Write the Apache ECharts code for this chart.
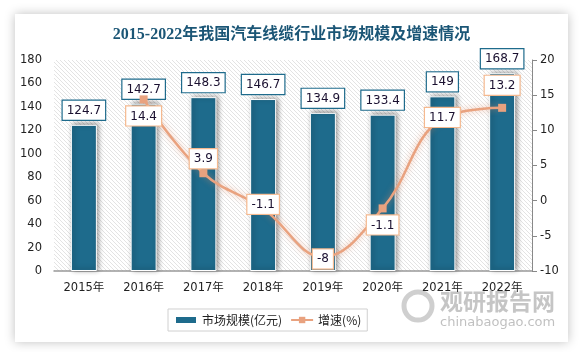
<!DOCTYPE html>
<html><head><meta charset="utf-8">
<script src="https://cdn.jsdelivr.net/npm/echarts@6/dist/echarts.min.js"></script>
<style>html,body{margin:0;padding:0;background:#fff}#c{width:583px;height:352px}</style>
</head><body><div id="c"></div>
<script>
const categories = ['2015年','2016年','2017年','2018年','2019年','2020年','2021年','2022年'];
const marketSize = [124.7,142.7,148.3,146.7,134.9,133.4,149,168.7];
const growth = [null,14.4,3.9,-1.1,-8,-1.1,11.7,13.2];
const leftTicks = {min:0,max:180,interval:20};
const rightTicks = {min:-10,max:20,interval:5};

// label placement per point for growth line (layout only)
const growthLabelPos = ['top','bottom','top','inside','inside','bottom','inside','top'];
const growthLabelDist = [7,3,1,0,0,3,0,9];
const growthLabelOff = [[0,0],[0,0],[0,0],[0,-4],[0,2],[0,0],[0,-1],[0,0]];

const pc = document.createElement('canvas');
pc.width = 4; pc.height = 4;
const g = pc.getContext('2d');
g.fillStyle = '#ffffff'; g.fillRect(0,0,4,4);
g.strokeStyle = '#e0e0e0'; g.lineWidth = 0.9;
g.beginPath(); g.moveTo(0,0); g.lineTo(4,4); g.stroke();
g.beginPath(); g.moveTo(-2,2); g.lineTo(2,6); g.stroke();
g.beginPath(); g.moveTo(2,-2); g.lineTo(6,2); g.stroke();

const chart = echarts.init(document.getElementById('c'));
const barColor = '#1e6b8c';
const lineColor = '#e9a27f';
chart.setOption({
  animation:false,
  backgroundColor:'#fff',
  graphic:[
    {type:'rect',z:-10,shape:{x:15,y:14,width:553,height:328},style:{fill:'#fff',shadowBlur:10,shadowColor:'rgba(0,0,0,0.25)'}},
    {type:'text',z:-5,left:440,top:290,style:{text:'观研报告网',font:'bold 23px "Noto Sans CJK SC"',fill:'rgba(150,150,150,0.55)'}},
    {type:'text',z:-5,left:440,top:316,style:{text:'chinabaogao.com',font:'13px "DejaVu Sans"',fill:'rgba(150,150,150,0.6)'}},
    {type:'circle',z:-5,shape:{cx:418,cy:306,r:14},style:{fill:'none',stroke:'rgba(160,160,160,0.5)',lineWidth:5}}
  ],
  title:{
    text:'2015-2022年我国汽车线缆行业市场规模及增速情况',
    left:'center', top:22,
    textStyle:{fontSize:16,fontWeight:'bold',color:'#1b5676',fontFamily:'"Liberation Serif","Noto Sans CJK SC",serif'}
  },
  legend:{
    bottom:21, left:168, itemGap:8,
    borderColor:'#d0d0d0', borderWidth:1, padding:[5,6],
    textStyle:{fontSize:12,color:'#222',fontFamily:'"Noto Sans CJK SC",sans-serif'},
    data:[
      {name:'市场规模(亿元)',icon:'rect',itemStyle:{color:barColor}},
      {name:'增速(%)'}
    ],
    itemWidth:22,itemHeight:8
  },
  grid:{left:54,right:51,top:60,bottom:81,show:true,borderWidth:0,
    backgroundColor:{image:pc,repeat:'repeat'}},
  xAxis:{type:'category',data:categories,
    axisLine:{lineStyle:{color:'#999',width:1.5}},axisTick:{show:false},
    axisLabel:{color:'#222',fontSize:11.5,margin:11,fontFamily:'"DejaVu Sans","Noto Sans CJK SC",sans-serif'}},
  yAxis:[
    {type:'value',min:leftTicks.min,max:leftTicks.max,interval:leftTicks.interval,
     splitLine:{show:false},axisLine:{show:false},axisTick:{show:false},
     axisLabel:{color:'#222',fontSize:11.5,margin:12,fontFamily:'"DejaVu Sans",sans-serif'}},
    {type:'value',min:rightTicks.min,max:rightTicks.max,interval:rightTicks.interval,
     splitLine:{show:false},axisLine:{show:true,lineStyle:{color:'#888'}},
     axisTick:{show:true,length:5,lineStyle:{color:'#888'}},
     axisLabel:{color:'#222',fontSize:11.5,margin:8,fontFamily:'"DejaVu Sans",sans-serif'}}
  ],
  series:[
    {name:'市场规模(亿元)',type:'bar',data:marketSize,barWidth:26,yAxisIndex:0,
     itemStyle:{color:barColor,borderColor:'#fff',borderWidth:1,shadowBlur:5,shadowColor:'rgba(0,0,0,0.45)',shadowOffsetX:2,shadowOffsetY:-1},
     label:{show:true,position:'top',distance:5,color:'#1a1030',fontSize:12,fontFamily:'"DejaVu Sans",sans-serif',
       backgroundColor:'#fff',borderColor:'#1e6b8c',borderWidth:1.2,padding:[4,4,3,4]}},
    {name:'增速(%)',type:'line',
     data:growth.map((v,i)=>({value:v,label:{position:growthLabelPos[i],distance:growthLabelDist[i],offset:growthLabelOff[i]}})),
     yAxisIndex:1,smooth:0.4,symbol:'rect',symbolSize:8,connectNulls:false,z:5,
     lineStyle:{color:lineColor,width:2.5,shadowBlur:6,shadowColor:'rgba(233,140,100,0.6)'},
     itemStyle:{color:lineColor},
     label:{show:true,color:'#1a1030',fontSize:12,fontFamily:'"DejaVu Sans",sans-serif',
       backgroundColor:'#fff',borderColor:'#f5b98f',borderWidth:1.2,padding:[4,4,3,4]}}
  ]
});
</script></body></html>
